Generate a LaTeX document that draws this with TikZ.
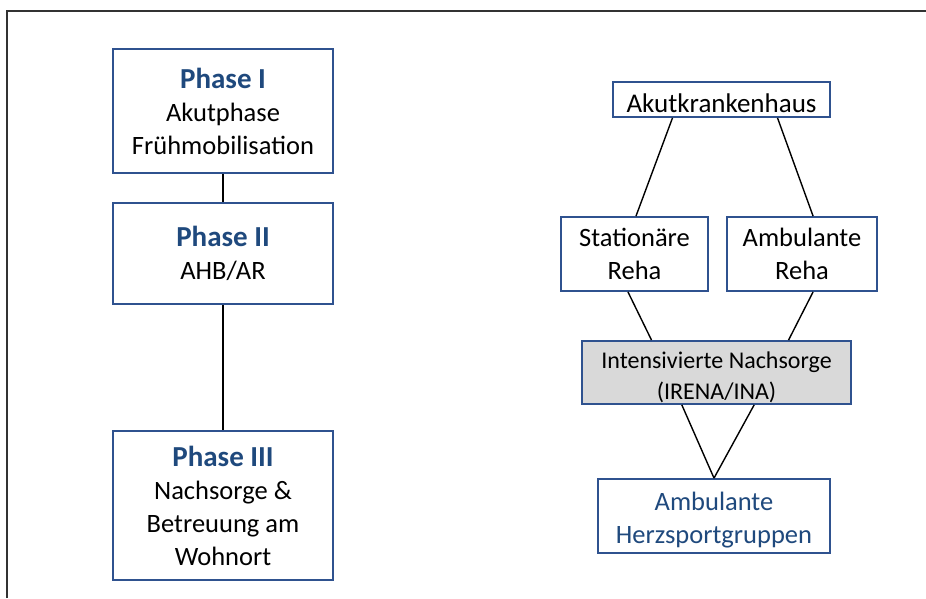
\documentclass[tikz,border=0pt]{standalone}
\usepackage{fontspec}
\setmainfont{Carlito}
\usetikzlibrary{calc}
\definecolor{boxblue}{RGB}{47,82,143}
\definecolor{txtblue}{RGB}{31,73,125}
\definecolor{grayfill}{RGB}{217,217,217}
\definecolor{framegray}{RGB}{50,50,50}
\newcommand{\phtitle}[1]{{\fontsize{29}{33}\selectfont\bfseries\color{txtblue}#1}}
\newcommand{\topstrut}[1]{\rule{0pt}{#1}}
\begin{document}
\begin{tikzpicture}[x=1pt,y=-1pt,
  box/.style={draw=boxblue,line width=1.8pt,fill=white,rectangle,inner sep=0pt,align=center,
    font=\fontsize{26.5}{33}\selectfont},
  conn/.style={line width=1.4pt,black}]
\useasboundingbox (0,0) rectangle (926,598);
\draw[framegray,line width=2.2pt] (7,598) -- (7,11) -- (926,11);
% left column
\node[box,minimum width=220pt,minimum height=124pt] (p1) at (223,111)
  {\phtitle{Phase I}\\Akutphase\\Frühmobilisation};
\node[box,minimum width=220pt,minimum height=101pt] (p2) at (223,253.5)
  {\phtitle{Phase II}\\AHB/AR};
\node[box,minimum width=220pt,minimum height=149pt] (p3) at (223,505.5)
  {\phtitle{Phase III}\\Nachsorge \&\\Betreuung am\\Wohnort};
\draw[conn] (p1.south) -- (p2.north);
\draw[conn] (p2.south) -- (p3.north);
% right column
\node[box,minimum width=217pt,minimum height=35pt,font=\fontsize{27}{33}\selectfont] (ak) at (721.5,99.5) {\topstrut{26pt}Akutkrankenhaus};
\node[box,minimum width=147pt,minimum height=74pt] (st) at (634.5,254) {Stationäre\\Reha};
\node[box,minimum width=150pt,minimum height=74pt] (am) at (802,254) {Ambulante\\Reha};
\node[box,fill=grayfill,minimum width=269pt,minimum height=63pt,font=\fontsize{24}{31}\selectfont] (in) at (716.5,372.5)
  {\topstrut{27pt}Intensivierte Nachsorge\\(IRENA/INA)};
\node[box,minimum width=232pt,minimum height=74pt,text=txtblue] (hz) at (714,516)
  {\topstrut{27pt}Ambulante\\Herzsportgruppen};
\draw[conn] ($(ak.south west)!0.276!(ak.south east)$) -- ($(st.north west)!0.51!(st.north east)$);
\draw[conn] ($(ak.south west)!0.756!(ak.south east)$) -- ($(am.north west)!0.573!(am.north east)$);
\draw[conn] ($(st.south west)!0.456!(st.south east)$) -- ($(in.north west)!0.26!(in.north east)$);
\draw[conn] ($(am.south west)!0.573!(am.south east)$) -- ($(in.north west)!0.766!(in.north east)$);
\draw[conn] ($(in.south west)!0.372!(in.south east)$) -- (hz.north);
\draw[conn] ($(in.south west)!0.639!(in.south east)$) -- (hz.north);
\end{tikzpicture}
\end{document}
